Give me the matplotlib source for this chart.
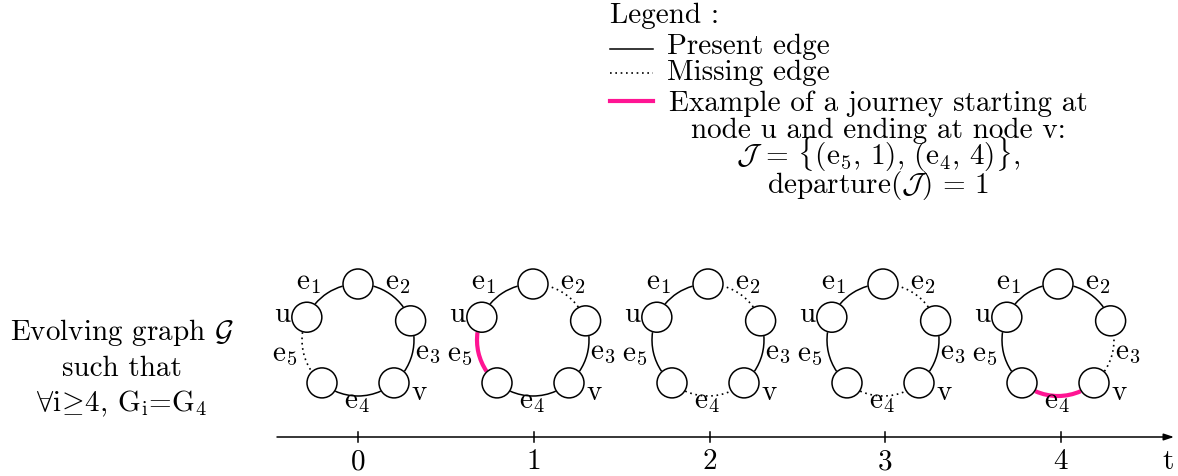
import numpy as np
import matplotlib
matplotlib.use("Agg")
from matplotlib import pyplot as plt
from matplotlib.patches import Circle, Arc

plt.rcParams['font.family'] = 'serif'
plt.rcParams['font.serif'] = ['cmr10']
plt.rcParams['mathtext.fontset'] = 'cm'
plt.rcParams['axes.unicode_minus'] = False

# data
times = [0, 1, 2, 3, 4]
tick_labels = ['0', '1', '2', '3', '4']
edge_names = ['e$_1$', 'e$_2$', 'e$_3$', 'e$_4$', 'e$_5$']
# p = present, m = missing, j = part of the journey
edge_states = [
    ['p', 'p', 'p', 'p', 'm'],
    ['p', 'm', 'p', 'p', 'j'],
    ['p', 'm', 'p', 'm', 'p'],
    ['p', 'm', 'p', 'm', 'p'],
    ['p', 'p', 'm', 'j', 'p'],
]
# node angles on the ring: top, u, lower left, lower right (v), upper right
node_angles = [90, 156, 230, 310, 20]
# edges as (start angle, end angle) going counter clockwise
edge_arcs = [(90, 156), (20, 90), (-50, 20), (-130, -50), (156, 230)]

legend_items = ['Present edge', 'Missing edge']
journey_text = ['Example of a journey starting at',
                'node u and ending at node v:',
                r'$\mathcal{J}$ = $\{$(e$_5$, 1), (e$_4$, 4)$\}$,',
                r'departure($\mathcal{J}$) = 1']
left_text = [r'Evolving graph $\mathcal{G}$', 'such that',
             r'$\forall$i$\!\geq\!$4, G$_{\rm i}$=G$_4$']

H = 476
pink = '#ff1493'
fs = 21
R = 56
rn = 15
gap = 16
cy = H - 340

fig = plt.figure(figsize=(11.78, 4.76), dpi=100)
ax = fig.add_axes([0, 0, 1, 1])
ax.set_xlim(0, 1178)
ax.set_ylim(0, H)
ax.axis('off')

styles = {'p': dict(color='black', lw=1.1, ls='-'),
          'm': dict(color='black', lw=1.2, ls=(0, (1, 2.2))),
          'j': dict(color=pink, lw=3.0, ls='-')}

for t, states in zip(times, edge_states):
    cx = 358 + 175 * t
    for (a1, a2), st in zip(edge_arcs, states):
        s = styles[st]
        arc = Arc((cx, cy), 2 * R, 2 * R, theta1=a1 + gap, theta2=a2 - gap,
                  color=s['color'], lw=s['lw'], ls=s['ls'], zorder=2)
        ax.add_patch(arc)
    for a in node_angles:
        x = cx + R * np.cos(np.radians(a))
        y = cy + R * np.sin(np.radians(a))
        ax.add_patch(Circle((x, y), rn, facecolor='white', edgecolor='black',
                            lw=1.1, zorder=3))
    # labels
    offs = [(-50, 57), (40, 57), (70, -13), (-1, -62), (-73, -15)]
    for name, (dx, dy) in zip(edge_names, offs):
        ax.text(cx + dx, cy + dy, name, fontsize=fs, ha='center', va='center')
    ax.text(cx - 76, cy + 25, 'u', fontsize=fs, ha='center', va='center')
    ax.text(cx + 61, cy - 53, 'v', fontsize=fs, ha='center', va='center')

# time axis
ay = H - 437
ax.annotate('', xy=(1174, ay), xytext=(277, ay),
            arrowprops=dict(arrowstyle='-|>,head_length=0.6,head_width=0.2',
                            lw=1.1, color='black', shrinkA=0, shrinkB=0))
for t, lab in zip(times, tick_labels):
    tx = 358 + 175.75 * t
    ax.plot([tx, tx], [ay - 5, ay + 5], color='black', lw=1.1)
    ax.text(tx, H - 462, lab, fontsize=fs, ha='center', va='center')
ax.text(1168, H - 462, 't', fontsize=fs, ha='center', va='center')

# left description
for line, base in zip(left_text, [340, 376, 411]):
    ax.text(122, H - base, line, fontsize=fs, ha='center', va='baseline')

# legend
ax.text(610, H - 22.7, 'Legend :', fontsize=fs, ha='left', va='baseline')
ax.plot([610, 653], [H - 49.3, H - 49.3], **styles['p'])
ax.plot([610, 653], [H - 72.7, H - 72.7], **styles['m'])
ax.plot([610, 653], [H - 100.7, H - 100.7], color=pink, lw=3.0)
for item, base in zip(legend_items, [54, 80]):
    ax.text(667, H - base, item, fontsize=fs, ha='left', va='baseline')
for line, base in zip(journey_text, [110.7, 138.3, 165, 193.3]):
    ax.text(878, H - base, line, fontsize=fs, ha='center', va='baseline')

fig.savefig('out.png', dpi=100)
